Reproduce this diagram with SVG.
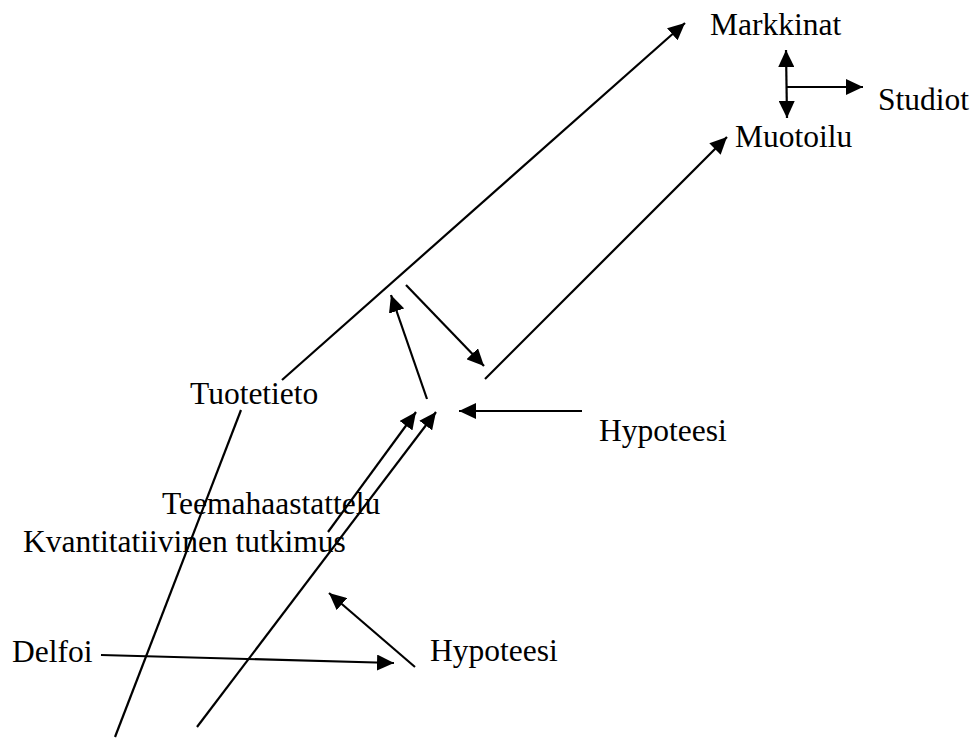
<svg xmlns="http://www.w3.org/2000/svg" width="978" height="738" viewBox="0 0 978 738">
  <style>
    .lbl { font-family: 'Liberation Serif', 'DejaVu Serif', serif; font-size: 31.5px; fill: #000; }
    .ln { stroke: #000; stroke-width: 2.2; fill: none; }
    .arr { marker-end: url(#head); }
  </style>
  <defs>
    <marker id="head" markerUnits="userSpaceOnUse" markerWidth="18" markerHeight="16" refX="17" refY="8" orient="auto">
      <path d="M0,0 L17,8 L0,16 z" fill="#000"/>
    </marker>
    <marker id="headStart" markerUnits="userSpaceOnUse" markerWidth="18" markerHeight="16" refX="0" refY="8" orient="auto">
      <path d="M17,0 L0,8 L17,16 z" fill="#000"/>
    </marker>
  </defs>

  <rect width="978" height="738" fill="#fff"/>

  <g id="connectors">
    <!-- Tuotetieto to Markkinat -->
    <line class="ln arr" x1="282" y1="380" x2="685" y2="23"/>
    <!-- Tuotetieto downward stroke -->
    <line class="ln" x1="241" y1="410" x2="115" y2="737"/>
    <!-- long rising stroke from the bottom -->
    <line class="ln arr" x1="197" y1="727" x2="436" y2="412"/>
    <!-- short rising stroke from Teemahaastattelu -->
    <line class="ln arr" x1="328" y1="532" x2="416" y2="412"/>
    <!-- centre loop -->
    <line class="ln arr" x1="427" y1="399" x2="391" y2="295"/>
    <line class="ln arr" x1="406" y1="285" x2="484" y2="366"/>
    <!-- to Muotoilu -->
    <line class="ln arr" x1="485" y1="379" x2="727" y2="137"/>
    <!-- upper Hypoteesi -->
    <line class="ln arr" x1="582" y1="411" x2="459" y2="411"/>
    <!-- lower Hypoteesi -->
    <line class="ln arr" x1="415" y1="667" x2="329" y2="593"/>
    <!-- Delfoi -->
    <line class="ln arr" x1="101" y1="655" x2="394" y2="663"/>
    <!-- Markkinat / Muotoilu / Studiot -->
    <line class="ln" x1="786" y1="50" x2="787" y2="118" marker-start="url(#headStart)" marker-end="url(#head)"/>
    <line class="ln arr" x1="787" y1="87" x2="863" y2="87"/>
  </g>

  <g id="markkinat"><text class="lbl" x="710" y="35">Markkinat</text></g>
  <g id="studiot"><text class="lbl" x="878" y="110">Studiot</text></g>
  <g id="muotoilu"><text class="lbl" x="735" y="147">Muotoilu</text></g>
  <g id="tuotetieto"><text class="lbl" x="190" y="404">Tuotetieto</text></g>
  <g id="hypoteesi-1"><text class="lbl" x="599" y="441">Hypoteesi</text></g>
  <g id="teemahaastattelu"><text class="lbl" x="162" y="514">Teemahaastattelu</text></g>
  <g id="kvantitatiivinen"><text class="lbl" x="23" y="552">Kvantitatiivinen tutkimus</text></g>
  <g id="delfoi"><text class="lbl" x="12" y="662">Delfoi</text></g>
  <g id="hypoteesi-2"><text class="lbl" x="430" y="661">Hypoteesi</text></g>
</svg>
